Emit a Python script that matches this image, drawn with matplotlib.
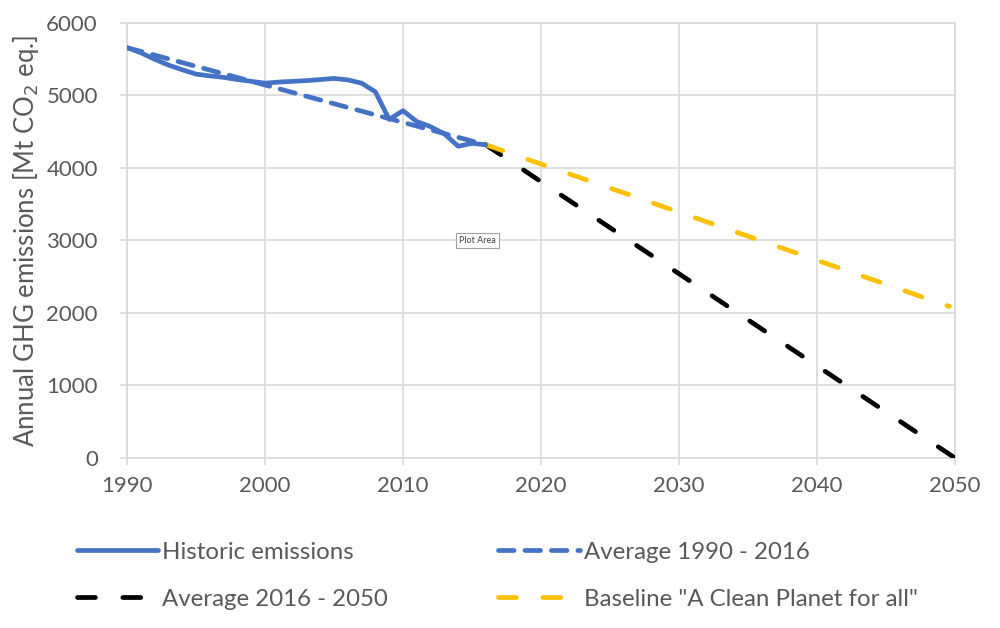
import numpy as np
import matplotlib
matplotlib.use("Agg")
import matplotlib.pyplot as plt

plt.rcParams['font.family'] = ['Lato', 'DejaVu Sans']

# historic emissions
hist_years = [1990, 1991, 1992, 1993, 1994, 1995, 1996, 1997, 1998, 1999,
		2000, 2001, 2002, 2003, 2004, 2005, 2006, 2007, 2008, 2009,
		2010, 2011, 2012, 2013, 2014, 2015, 2016]
hist_vals = [5660, 5590, 5500, 5420, 5355, 5295, 5270, 5250, 5220, 5195,
		5170, 5185, 5195, 5205, 5220, 5235, 5215, 5170, 5050, 4670,
		4790, 4640, 4570, 4470, 4300, 4340, 4320]

# trend lines (end points)
avg_past_years = [1990, 2016]
avg_past_vals = [5660, 4320]
avg_future_years = [2016, 2050]
avg_future_vals = [4320, 0]
baseline_years = [2016, 2049.6]
baseline_vals = [4320, 2090]

labels = ['Historic emissions', 'Average 1990 - 2016',
		'Average 2016 - 2050', 'Baseline "A Clean Planet for all"']

grey = '#595959'
grid = '#d9d9d9'
lw = 3.4

fig = plt.figure(figsize=(10, 6.28), dpi=100)
ax = fig.add_axes([0.127, 0.2707, 0.828, 0.6927])

l1, = ax.plot(hist_years, hist_vals, color='#4472c4', lw=lw,
		solid_capstyle='round', solid_joinstyle='round', zorder=4)
l2, = ax.plot(avg_past_years, avg_past_vals, color='#4472c4', lw=lw,
		dashes=(3.3, 2.3), dash_capstyle='round', zorder=3)
l3, = ax.plot(avg_future_years, avg_future_vals, color='black', lw=lw,
		dashes=(3.8, 5.8), dash_capstyle='round', zorder=3)
l4, = ax.plot(baseline_years, baseline_vals, color='#ffc000', lw=lw,
		dashes=(3.8, 5.6), dash_capstyle='round', zorder=3)

ax.set_xlim(1990, 2050)
ax.set_ylim(0, 6000)
ax.set_xticks(np.arange(1990, 2051, 10))
ax.set_yticks(np.arange(0, 6001, 1000))
ax.grid(True, color=grid, lw=1.2)
ax.set_axisbelow(True)
for s in ax.spines.values():
	s.set_color(grid)
	s.set_linewidth(1.2)
ax.tick_params(axis='both', colors=grid, labelcolor=grey, labelsize=16,
		length=5, width=1.2)
ax.tick_params(axis='x', pad=8)
ax.tick_params(axis='y', pad=16)

ax.set_ylabel('Annual GHG emissions [Mt CO$_2$ eq.]', color=grey, fontsize=18.5,
		labelpad=4)

# the "Plot Area" tooltip that is in the screenshot
ax.text(2015.4, 3000, 'Plot Area', fontsize=6.5, color='#404040',
		ha='center', va='center', zorder=6,
		bbox=dict(boxstyle='square,pad=0.3', fc='white', ec='#a0a0a0', lw=0.8))

# column-first fill, so order gives rows: l1 l2 / l3 l4
leg = fig.legend([l1, l3, l2, l4], [labels[0], labels[2], labels[1], labels[3]],
		ncol=2, loc='upper left',
		bbox_to_anchor=(0.055, 0.172), frameon=False, fontsize=17.3,
		handlelength=3.4, handletextpad=0.15, columnspacing=4.6,
		labelspacing=1.08)
for t in leg.get_texts():
	t.set_color(grey)

plt.savefig('out.png', dpi=100)
